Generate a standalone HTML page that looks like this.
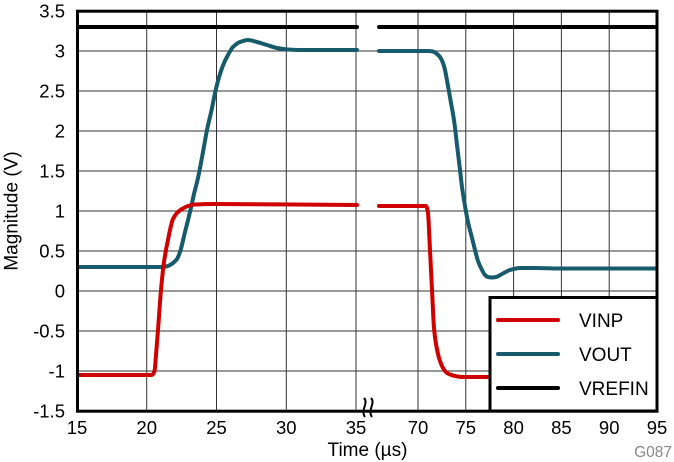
<!DOCTYPE html>
<html>
<head>
<meta charset="utf-8">
<style>
html,body{margin:0;padding:0;background:#fff;}
svg{display:block;}
text{font-family:"Liberation Sans",Arial,sans-serif;fill:#000;}
</style>
</head>
<body>
<svg id="chart" width="674" height="462" viewBox="0 0 674 462" xmlns="http://www.w3.org/2000/svg">
<rect x="0" y="0" width="674" height="462" fill="#fff"/>
<!-- horizontal gridlines -->
<g stroke="#333" stroke-width="1" fill="none">
<line x1="77" y1="51" x2="657" y2="51"/>
<line x1="77" y1="91" x2="657" y2="91"/>
<line x1="77" y1="131" x2="657" y2="131"/>
<line x1="77" y1="171" x2="657" y2="171"/>
<line x1="77" y1="211" x2="657" y2="211"/>
<line x1="77" y1="251" x2="657" y2="251"/>
<line x1="77" y1="291" x2="657" y2="291"/>
<line x1="77" y1="331" x2="657" y2="331"/>
<line x1="77" y1="371" x2="657" y2="371"/>
<!-- vertical gridlines -->
<line x1="146.7" y1="11" x2="146.7" y2="411"/>
<line x1="216.5" y1="11" x2="216.5" y2="411"/>
<line x1="286.3" y1="11" x2="286.3" y2="411"/>
<line x1="356" y1="11" x2="356" y2="411"/>
<line x1="418" y1="11" x2="418" y2="411"/>
<line x1="465.8" y1="11" x2="465.8" y2="411"/>
<line x1="513.6" y1="11" x2="513.6" y2="411"/>
<line x1="561.4" y1="11" x2="561.4" y2="411"/>
<line x1="609.2" y1="11" x2="609.2" y2="411"/>
</g>

<!-- VREFIN -->
<g stroke="#000" stroke-width="4" fill="none" stroke-linecap="round">
<line x1="78" y1="27" x2="357" y2="27"/>
<line x1="379" y1="27" x2="656" y2="27"/>
</g>

<!-- VOUT -->
<g stroke="#165a6b" stroke-width="4" fill="none" stroke-linejoin="round" stroke-linecap="round">
<polyline class="smooth" points="78,267 160,267 166,266.5 170,265 173,263 177,259 180,252 185,232 190,212 194,194 198,178 203,152 207,130 212,108 215,93 220,74 224,63 228,55 233,47 240,42 248,40 257,42 267,45 277,48 288,49.5 300,50 357,50"/>
<polyline class="smooth" points="379,51 428,51 433,51.5 437,54 440,57 443,63 445,70 448,86 451,103 454,120 457,145 460,170 462,187 465,206 468,222 472,238 475,250 478,261 482,270 485,275 488,277 492,277.5 496,277 502,274 510,270 520,268 535,268 560,268.5 656,268.5"/>
</g>

<!-- VINP -->
<g stroke="#d00000" stroke-width="4" fill="none" stroke-linejoin="round" stroke-linecap="round">
<polyline class="smooth" points="78,375 152,375 154.5,371 156,355 158,330 161,290 164,262 166,250 168,240 170,230 173,219 177,213 182,209 188,206 195,204.5 215,204 357,205"/>
<polyline class="smooth" points="379,206 426,206 428,213 429.5,240 431,270 432.5,300 434,328 436,344 438,354 440,361 443,368 447,373 453,375.5 462,377 656,377"/>
</g>

<!-- plot border -->
<rect x="77.5" y="11.2" width="579.5" height="400" fill="none" stroke="#000" stroke-width="3"/>

<!-- break symbol -->
<g stroke="#000" stroke-width="2" fill="none">
<path d="M364,398 C369,403 360,410 365,417"/>
<path d="M371,398 C376,403 367,410 372,417"/>
</g>

<!-- legend -->
<rect x="490" y="297.5" width="167" height="113.5" fill="#fff" stroke="#000" stroke-width="3"/>
<g stroke-width="4" stroke-linecap="round">
<line x1="498" y1="320" x2="558" y2="320" stroke="#d00000"/>
<line x1="498" y1="354" x2="558" y2="354" stroke="#165a6b"/>
<line x1="498" y1="388" x2="558" y2="388" stroke="#000"/>
</g>
<g font-size="19">
<text x="579" y="327">VINP</text>
<text x="579" y="361">VOUT</text>
<text x="579" y="395">VREFIN</text>
</g>

<!-- y tick labels -->
<g font-size="18.5" text-anchor="end">
<text x="65" y="17.5">3.5</text>
<text x="65" y="57.5">3</text>
<text x="65" y="97.5">2.5</text>
<text x="65" y="137.5">2</text>
<text x="65" y="177.5">1.5</text>
<text x="65" y="217.5">1</text>
<text x="65" y="257.5">0.5</text>
<text x="65" y="297.5">0</text>
<text x="65" y="337.5">-0.5</text>
<text x="65" y="377.5">-1</text>
<text x="65" y="417.5">-1.5</text>
</g>

<!-- x tick labels -->
<g font-size="18.5" text-anchor="middle">
<text x="77" y="434">15</text>
<text x="146.7" y="434">20</text>
<text x="216.5" y="434">25</text>
<text x="286.3" y="434">30</text>
<text x="356" y="434">35</text>
<text x="418" y="434">70</text>
<text x="465.8" y="434">75</text>
<text x="513.6" y="434">80</text>
<text x="561.4" y="434">85</text>
<text x="609.2" y="434">90</text>
<text x="657" y="434">95</text>
</g>

<!-- axis titles -->
<text x="367.5" y="456" font-size="19" text-anchor="middle">Time (µs)</text>
<text transform="translate(17.5,211) rotate(-90)" font-size="19" text-anchor="middle">Magnitude (V)</text>

<text x="672" y="457" font-size="15.5" text-anchor="end" style="fill:#888">G087</text>
</svg>
<script>
(function(){
  function monotone(p){
    var n=p.length, i, dx=[], dy=[], s=[], m=[];
    for(i=0;i<n-1;i++){dx[i]=p[i+1][0]-p[i][0];dy[i]=p[i+1][1]-p[i][1];s[i]=dy[i]/dx[i];}
    m[0]=s[0]; m[n-1]=s[n-2];
    for(i=1;i<n-1;i++){
      if(s[i-1]*s[i]<=0){m[i]=0;}
      else{
        var w1=2*dx[i]+dx[i-1], w2=dx[i]+2*dx[i-1];
        m[i]=(w1+w2)/(w1/s[i-1]+w2/s[i]);
      }
    }
    var d='M'+p[0][0]+','+p[0][1];
    for(i=0;i<n-1;i++){
      var h=dx[i]/3;
      d+=' C'+(p[i][0]+h).toFixed(2)+','+(p[i][1]+m[i]*h).toFixed(2)+' '+(p[i+1][0]-h).toFixed(2)+','+(p[i+1][1]-m[i+1]*h).toFixed(2)+' '+p[i+1][0]+','+p[i+1][1];
    }
    return d;
  }
  var pls=document.querySelectorAll('polyline.smooth');
  for(var k=0;k<pls.length;k++){
    var pl=pls[k];
    var p=pl.getAttribute('points').trim().split(/\s+/).map(function(s){var a=s.split(',');return [parseFloat(a[0]),parseFloat(a[1])];});
    var path=document.createElementNS('http://www.w3.org/2000/svg','path');
    path.setAttribute('d',monotone(p));
    pl.parentNode.replaceChild(path,pl);
  }
})();
</script>
</body>
</html>
